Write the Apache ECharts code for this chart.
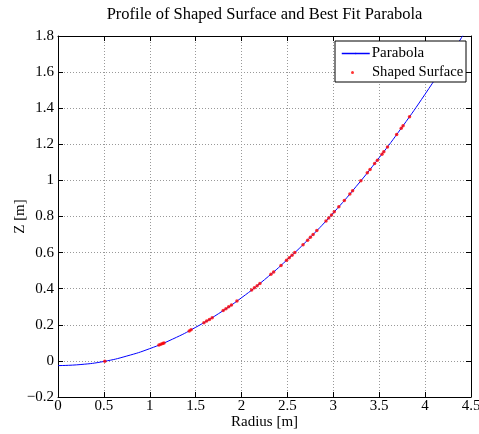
<!DOCTYPE html>
<html>
<head>
<meta charset="utf-8">
<script src="https://cdn.jsdelivr.net/npm/echarts@6/dist/echarts.min.js"></script>
<style>
  html, body { margin: 0; padding: 0; background: #fff; }
  #chart { width: 479px; height: 434px; }
</style>
</head>
<body>
<div id="chart"></div>
<script>
// best fit parabola
const parabolaR = [0, 0.25, 0.5, 0.75, 1.0, 1.25, 1.5, 1.75, 2.0, 2.25, 2.5, 2.75, 3.0, 3.25, 3.5, 3.75, 4.0, 4.25, 4.41];
const parabolaZ = [-0.026, -0.020, -0.003, 0.027, 0.068, 0.121, 0.186, 0.262, 0.350, 0.450, 0.562, 0.685, 0.820, 0.967, 1.126, 1.296, 1.478, 1.672, 1.802];

// measured surface points (radius, z)
const surfaceR = [0.51, 1.10, 1.12, 1.14, 1.155, 1.43, 1.45, 1.59, 1.62, 1.65, 1.68, 1.80, 1.83, 1.86, 1.89, 1.95,
  2.11, 2.14, 2.17, 2.20, 2.32, 2.35, 2.43, 2.49, 2.52, 2.55, 2.58, 2.67, 2.72, 2.75, 2.78, 2.82,
  2.92, 2.95, 2.98, 3.01, 3.06, 3.12, 3.18, 3.21, 3.30, 3.37, 3.40, 3.45, 3.48, 3.53, 3.55, 3.59,
  3.69, 3.74, 3.76, 3.83];
const surfaceZ = [-0.002, 0.088, 0.092, 0.096, 0.099, 0.166, 0.172, 0.212, 0.221, 0.230, 0.239, 0.279, 0.289, 0.300, 0.310, 0.332,
  0.393, 0.405, 0.417, 0.429, 0.480, 0.493, 0.529, 0.557, 0.571, 0.585, 0.600, 0.644, 0.669, 0.685, 0.700, 0.722,
  0.775, 0.792, 0.809, 0.826, 0.854, 0.889, 0.925, 0.943, 0.998, 1.042, 1.061, 1.093, 1.112, 1.145, 1.159, 1.185,
  1.254, 1.289, 1.303, 1.353];

const xTicks = { min: 0, max: 4.5, interval: 0.5 };
const yTicks = { min: -0.2, max: 1.8, interval: 0.2 };

const font = 'Liberation Serif';
const fmt = (v) => {
  const s = String(Number(v.toFixed(1)));
  return s.replace('-', '\u2212');
};

const myChart = echarts.init(document.getElementById('chart'));

const axisLine = { show: true, onZero: false, lineStyle: { color: '#000', width: 1 } };
const tick = { show: true, inside: true, length: 5, lineStyle: { color: '#000' } };
const split = { show: true, lineStyle: { color: '#999', type: [1, 2], width: 1 } };

const options = {
  animation: false,
  title: {
    text: 'Profile of Shaped Surface and Best Fit Parabola',
    left: 264.5,
    top: 6,
    padding: 0,
    textAlign: 'center',
    textStyle: { fontFamily: font, fontSize: 16.5, fontWeight: 'normal', color: '#000' },
  },
  grid: { left: 58, right: 8, top: 36, bottom: 37, containLabel: false, outerBoundsMode: 'none' },
  xAxis: [
    {
      type: 'value', position: 'bottom', ...xTicks,
      name: 'Radius [m]', nameLocation: 'middle', nameGap: 18, nameMoveOverlap: false,
      nameTextStyle: { fontFamily: font, fontSize: 15, color: '#000' },
      axisLine, axisTick: tick, splitLine: split,
      axisLabel: { fontFamily: font, fontSize: 15, color: '#000', margin: 2, formatter: fmt },
    },
    {
      type: 'value', position: 'top', ...xTicks,
      axisLine, axisTick: tick, splitLine: { show: false }, axisLabel: { show: false },
    },
  ],
  yAxis: [
    {
      type: 'value', position: 'left', ...yTicks,
      name: 'Z [m]', nameLocation: 'middle', nameGap: 30, nameMoveOverlap: false,
      nameTextStyle: { fontFamily: font, fontSize: 15, color: '#000' },
      axisLine, axisTick: tick, splitLine: split,
      axisLabel: { fontFamily: font, fontSize: 15, color: '#000', margin: 4, formatter: fmt },
    },
    {
      type: 'value', position: 'right', ...yTicks,
      axisLine, axisTick: tick, splitLine: { show: false }, axisLabel: { show: false },
    },
  ],
  graphic: [
    {
      type: 'rect', z: 10,
      shape: { x: 335, y: 41, width: 131, height: 41 },
      style: { fill: '#fff', stroke: '#000', lineWidth: 1 },
    },
  ],
  legend: [
    {
      data: [{
        name: 'Parabola',
        itemStyle: { color: '#0000ff' },
        lineStyle: { color: '#0000ff', width: 1.5 },
      }],
      left: 341, top: 46, padding: 0, z: 11,
      itemWidth: 28, itemHeight: 2, itemGap: 0,
      textStyle: { fontFamily: font, fontSize: 15, color: '#000', padding: [0, 0, 0, -3] },
    },
    {
      data: [{ name: 'Shaped Surface', icon: 'circle' }], left: 351, top: 65, padding: 0, z: 11,
      itemWidth: 29, itemHeight: 3, itemGap: 0,
      textStyle: { fontFamily: font, fontSize: 14.6, color: '#000', padding: [0, 0, 0, 0] },
    },
  ],
  series: [
    {
      name: 'Parabola',
      type: 'line',
      smooth: true,
      symbol: 'none',
      lineStyle: { color: '#0000ff', width: 1 },
      itemStyle: { color: '#0000ff' },
      data: parabolaR.map((r, i) => [r, parabolaZ[i]]),
      z: 3,
    },
    {
      name: 'Shaped Surface',
      type: 'scatter',
      symbol: 'circle',
      symbolSize: 3.5,
      itemStyle: { color: '#ff0000' },
      data: surfaceR.map((r, i) => [r, surfaceZ[i]]),
      z: 4,
    },
  ],
};

myChart.setOption(options);
</script>
</body>
</html>
